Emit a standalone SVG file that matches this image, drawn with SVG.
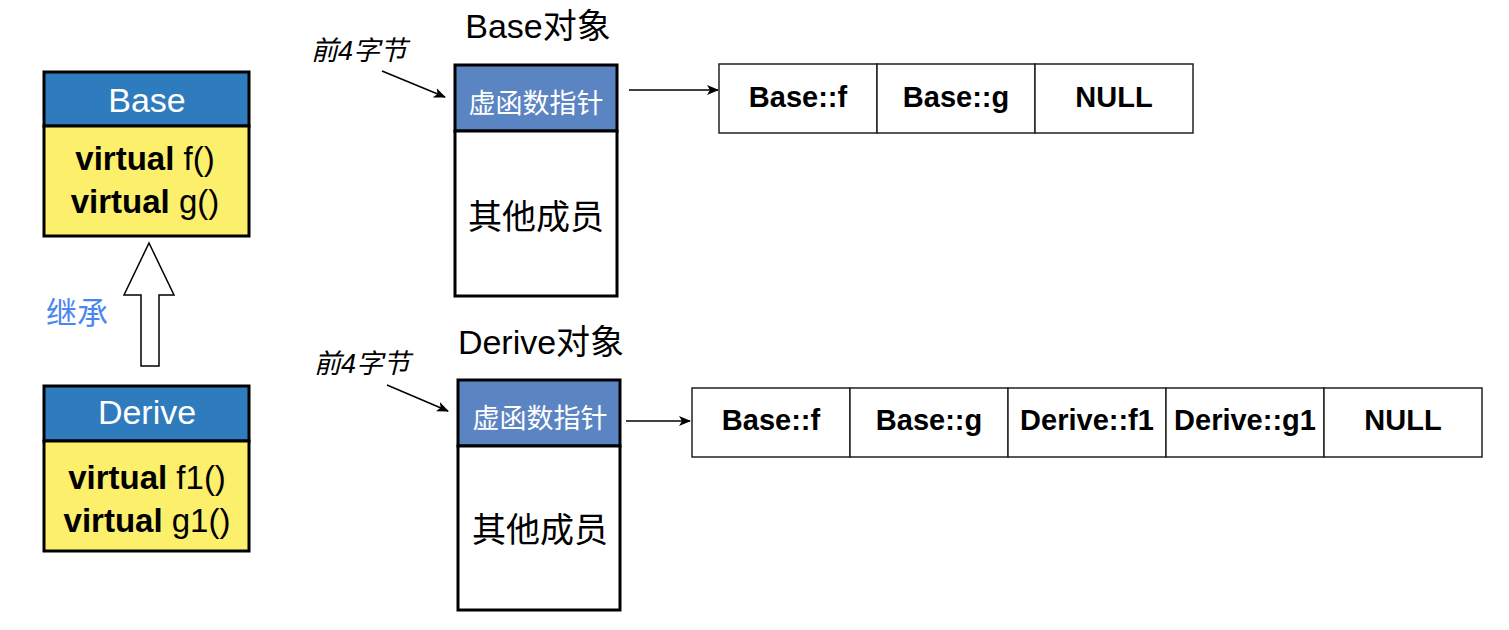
<svg xmlns="http://www.w3.org/2000/svg" width="1509" height="630" viewBox="0 0 1509 630">
<style>
text{font-family:"Liberation Sans","Noto Sans CJK SC",sans-serif;}
.hdr{fill:#2e7bbd;stroke:#000;stroke-width:3;}
.body{fill:#fbef6b;stroke:#000;stroke-width:3;}
.ohdr{fill:#5b84c2;stroke:#000;stroke-width:3;}
.obody{fill:#fff;stroke:#000;stroke-width:3;}
.cell{fill:#fff;stroke:#222;stroke-width:1.5;}
.ht{fill:#fff;font-size:34px;text-anchor:middle;}
.mt{fill:#000;font-size:33px;text-anchor:middle;}
.b{font-weight:bold;}
.title{fill:#000;font-size:34px;text-anchor:middle;}
.vp{fill:#fff;font-size:27px;text-anchor:middle;}
.om{fill:#000;font-size:34px;text-anchor:middle;}
.ct{fill:#000;font-size:29px;font-weight:bold;text-anchor:middle;}
.ct2{fill:#000;font-size:29px;font-weight:bold;text-anchor:middle;}
.note{fill:#000;font-size:27px;font-style:italic;}
.line{stroke:#000;stroke-width:1.5;fill:none;}
</style>
<defs>
<marker id="ah" viewBox="0 0 12 10" refX="11" refY="5" markerWidth="12" markerHeight="10" markerUnits="userSpaceOnUse" orient="auto">
<path d="M0,0 L12,5 L0,10 L3,5 z" fill="#000"/>
</marker>
</defs>

<g id="base-class">
<rect class="hdr" x="44" y="72" width="205" height="54"/>
<rect class="body" x="44" y="126" width="205" height="110"/>
<text class="ht" x="147" y="112">Base</text>
<text class="mt" x="145" y="170"><tspan class="b">virtual</tspan> f()</text>
<text class="mt" x="145" y="213"><tspan class="b">virtual</tspan> g()</text>
</g>

<g id="derive-class">
<rect class="hdr" x="44" y="386" width="205" height="55"/>
<rect class="body" x="44" y="441" width="205" height="110"/>
<text class="ht" x="147" y="424">Derive</text>
<text class="mt" x="147" y="489"><tspan class="b">virtual</tspan> f1()</text>
<text class="mt" x="147" y="532"><tspan class="b">virtual</tspan> g1()</text>
</g>

<g id="inherit-label">
<text x="46" y="324" style="fill:#4a86f0;font-size:31px;">继承</text>
</g>

<g id="base-object">
<text class="title" x="538" y="38">Base对象</text>
<rect class="ohdr" x="455" y="65" width="162" height="66"/>
<rect class="obody" x="455" y="131" width="162" height="165"/>
<text class="vp" x="536" y="113">虚函数指针</text>
<text class="om" x="536" y="229">其他成员</text>
</g>

<g id="derive-object">
<text class="title" x="541" y="354">Derive对象</text>
<rect class="ohdr" x="458" y="380" width="162" height="66"/>
<rect class="obody" x="458" y="446" width="162" height="164"/>
<text class="vp" x="540" y="428">虚函数指针</text>
<text class="om" x="540" y="542">其他成员</text>
</g>

<g id="base-vtable">
<rect class="cell" x="719" y="64" width="158" height="69"/>
<rect class="cell" x="877" y="64" width="158" height="69"/>
<rect class="cell" x="1035" y="64" width="158" height="69"/>
<text class="ct" x="798" y="107">Base::f</text>
<text class="ct" x="956" y="107">Base::g</text>
<text class="ct" x="1114" y="107">NULL</text>
</g>

<g id="derive-vtable">
<rect class="cell" x="692" y="388" width="158" height="69"/>
<rect class="cell" x="850" y="388" width="158" height="69"/>
<rect class="cell" x="1008" y="388" width="158" height="69"/>
<rect class="cell" x="1166" y="388" width="158" height="69"/>
<rect class="cell" x="1324" y="388" width="158" height="69"/>
<text class="ct2" x="771" y="430">Base::f</text>
<text class="ct2" x="929" y="430">Base::g</text>
<text class="ct2" x="1087" y="430">Derive::f1</text>
<text class="ct2" x="1245" y="430">Derive::g1</text>
<text class="ct2" x="1403" y="430">NULL</text>
</g>

<g id="notes">
<text class="note" x="311" y="60">前4字节</text>
<text class="note" x="314" y="373">前4字节</text>
</g>

<g id="connectors">
<path d="M149,243 L174,295 L159,295 L159,366 L141,366 L141,295 L124,295 Z" fill="#fff" stroke="#000" stroke-width="1.5"/>
<line class="line" x1="629" y1="90" x2="718" y2="90" marker-end="url(#ah)"/>
<line class="line" x1="626" y1="421" x2="690" y2="421" marker-end="url(#ah)"/>
<line class="line" x1="382" y1="71" x2="445" y2="97" marker-end="url(#ah)"/>
<line class="line" x1="387" y1="385" x2="448" y2="411" marker-end="url(#ah)"/>
</g>
</svg>
